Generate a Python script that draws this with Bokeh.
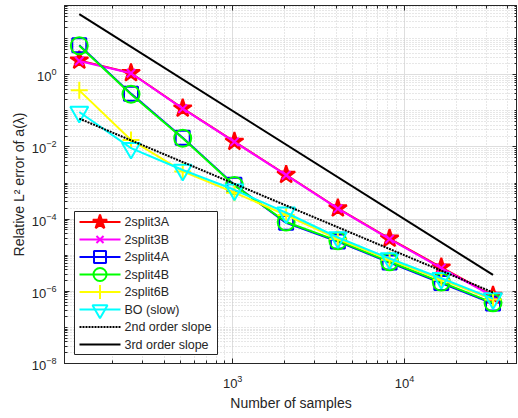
from bokeh.plotting import figure
from bokeh.models import (FixedTicker, LogAxis, LogTickFormatter, Range1d,
                          LinearScale)
from bokeh.core.properties import value
from bokeh.embed import file_html
from bokeh.resources import INLINE

# Number of samples used in the convergence study
samples = [128, 256, 512, 1024, 2048, 4096, 8192, 16384, 32768]

# Relative L2 error of a(lambda) for each scheme
err_2split3A = [2.5, 1.12, 0.117, 0.014, 1.7e-3, 2.0e-4, 2.9e-5, 4.6e-6, 7.6e-7]
err_2split3B = [2.4, 1.10, 0.115, 0.0138, 1.65e-3, 1.95e-4, 2.8e-5, 4.4e-6, 7.3e-7]
err_2split4A = [6.6, 0.30, 0.018, 8.9e-4, 7.9e-5, 2.4e-5, 6.3e-6, 1.7e-6, 4.6e-7]
err_2split4B = [6.4, 0.29, 0.0175, 8.6e-4, 8.3e-5, 2.5e-5, 6.6e-6, 1.8e-6, 4.8e-7]
err_2split6B = [0.37, 0.0156, 2.1e-3, 5.4e-4, 1.3e-4, 2.8e-5, 7.5e-6, 2.1e-6, 5.9e-7]
err_BO = [0.093, 9.3e-3, 2.3e-3, 6.5e-4, 1.5e-4, 3.1e-5, 8.1e-6, 2.3e-6, 6.3e-7]

# Reference slopes (end points)
slope_samples = [128, 32768]
slope2_vals = [0.061, 9.3e-7]
slope3_vals = [47.7, 2.84e-6]

x_major = [1e3, 1e4]
x_minor = [m * 10 ** k for k in (2, 3, 4) for m in range(1, 10)]
y_major = [1e-8, 1e-6, 1e-4, 1e-2, 1e0, 1e2]
y_minor = [m * 10.0 ** k for k in range(-8, 2) for m in range(1, 10)]

FONT = "Liberation Sans"
AX = "#262626"
FW, FH = 453, 358  # plotting area in pixels

p = figure(frame_width=FW, frame_height=FH, x_axis_type="log",
           y_axis_type="log", x_range=(105, 45500), y_range=(1e-8, 83),
           output_backend="svg", toolbar_location=None,
           min_border_left=64, min_border_right=0, min_border_top=5,
           min_border_bottom=55, background_fill_color="white",
           border_fill_color="white")
p.outline_line_color = AX
p.outline_line_width = 1

# pixel-based coordinate system over the plotting area, used for the key
p.extra_x_ranges = {"px": Range1d(0, FW)}
p.extra_y_ranges = {"py": Range1d(0, FH)}
p.extra_x_scales = {"px": LinearScale()}
p.extra_y_scales = {"py": LinearScale()}

xt = FixedTicker(ticks=x_major, minor_ticks=x_minor)
yt = FixedTicker(ticks=y_major, minor_ticks=y_minor)
p.xaxis.ticker = xt
p.yaxis.ticker = yt
p.xgrid.ticker = xt
p.ygrid.ticker = yt

for ax in (p.xaxis[0], p.yaxis[0]):
    ax.formatter = LogTickFormatter()
    ax.axis_line_color = AX
    ax.major_tick_line_color = AX
    ax.minor_tick_line_color = AX
    ax.major_tick_in = 5
    ax.major_tick_out = 0
    ax.minor_tick_in = 3
    ax.minor_tick_out = 0
    ax.major_label_text_font = FONT
    ax.major_label_text_font_size = "13px"
    ax.major_label_text_color = AX
    ax.axis_label_text_font = FONT
    ax.axis_label_text_font_size = "14px"
    ax.axis_label_text_font_style = "normal"
    ax.axis_label_text_color = AX

p.xaxis.axis_label = "Number of samples"
p.yaxis.axis_label = "Relative L\u00b2 error of a(\u03bb)"
p.xaxis.major_label_standoff = 11
p.xaxis.axis_label_standoff = 4
p.yaxis.major_label_standoff = 8
p.yaxis.axis_label_standoff = 2

# tick marks along the top and right edges of the box
for loc, tk in (("above", xt), ("right", yt)):
    ax = LogAxis(ticker=tk, formatter=LogTickFormatter(),
                 major_label_text_font_size="1px",
                 major_label_text_alpha=0,
                 major_tick_in=5, major_tick_out=0, minor_tick_in=3,
                 minor_tick_out=0, major_label_standoff=0,
                 axis_line_color=AX, major_tick_line_color=AX,
                 minor_tick_line_color=AX)
    p.add_layout(ax, loc)

for g in (p.xgrid[0], p.ygrid[0]):
    g.grid_line_color = "#dedede"
    g.grid_line_width = 1
    g.minor_grid_line_color = "#cfcfcf"
    g.minor_grid_line_dash = "1 2"
    g.minor_grid_line_width = 1

# name, values, colour, marker, marker size, fill, key marker size
series = [
    ("2split3A", err_2split3A, "#ff0000", "star", 19, "#ff0000", 15),
    ("2split3B", err_2split3B, "#ff00ff", "x", 12, None, 10),
    ("2split4A", err_2split4A, "#0000ff", "square", 14, None, 12),
    ("2split4B", err_2split4B, "#00ff00", "circle", 17, None, 13),
    ("2split6B", err_2split6B, "#ffff00", "cross", 17, None, 14),
    ("BO (slow)", err_BO, "#00ffff", "inverted_triangle", 18, None, 15),
]

for name, vals, color, marker, size, fill, _ in series:
    p.line(samples, vals, line_color=color, line_width=2)
    p.scatter(samples, vals, marker=marker, size=size, line_color=color,
              fill_color=fill, line_width=2)

p.line(slope_samples, slope2_vals, line_color="black", line_width=2,
       line_dash="2 1")
p.line(slope_samples, slope3_vals, line_color="black", line_width=2)

# ---- key (pixel coordinates inside the plotting area) ----
KX0, KX1, KY0, KY1 = 10, 153, 9, 152
ROW0, ROW_H = 141.5, 17.5
SW0, SW1, TXT = 15, 56, 60
kw = dict(x_range_name="px", y_range_name="py", level="overlay")

p.quad(left=[KX0], right=[KX1], bottom=[KY0], top=[KY1], fill_color="white",
       line_color=AX, line_width=1, **kw)

labels = [s[0] for s in series] + ["2nd order slope", "3rd order slope"]
rows = [ROW0 - ROW_H * i for i in range(len(labels))]

for i, (name, vals, color, marker, size, fill, ksize) in enumerate(series):
    y = rows[i]
    p.segment(x0=[SW0], x1=[SW1], y0=[y], y1=[y], line_color=color,
              line_width=2, **kw)
    p.scatter(x=[(SW0 + SW1) / 2], y=[y], marker=marker, size=ksize,
              line_color=color, fill_color=fill, line_width=2, **kw)

p.segment(x0=[SW0], x1=[SW1], y0=[rows[6]], y1=[rows[6]], line_color="black",
          line_width=2, line_dash="2 1", **kw)
p.segment(x0=[SW0], x1=[SW1], y0=[rows[7]], y1=[rows[7]], line_color="black",
          line_width=2, **kw)

p.text(x=[TXT] * len(labels), y=rows, text=labels, text_font=value(FONT),
       text_font_size=value("12.5px"), text_color=AX, text_baseline="middle",
       text_align="left", **kw)

open("out.html", "w").write(file_html(p, INLINE))
